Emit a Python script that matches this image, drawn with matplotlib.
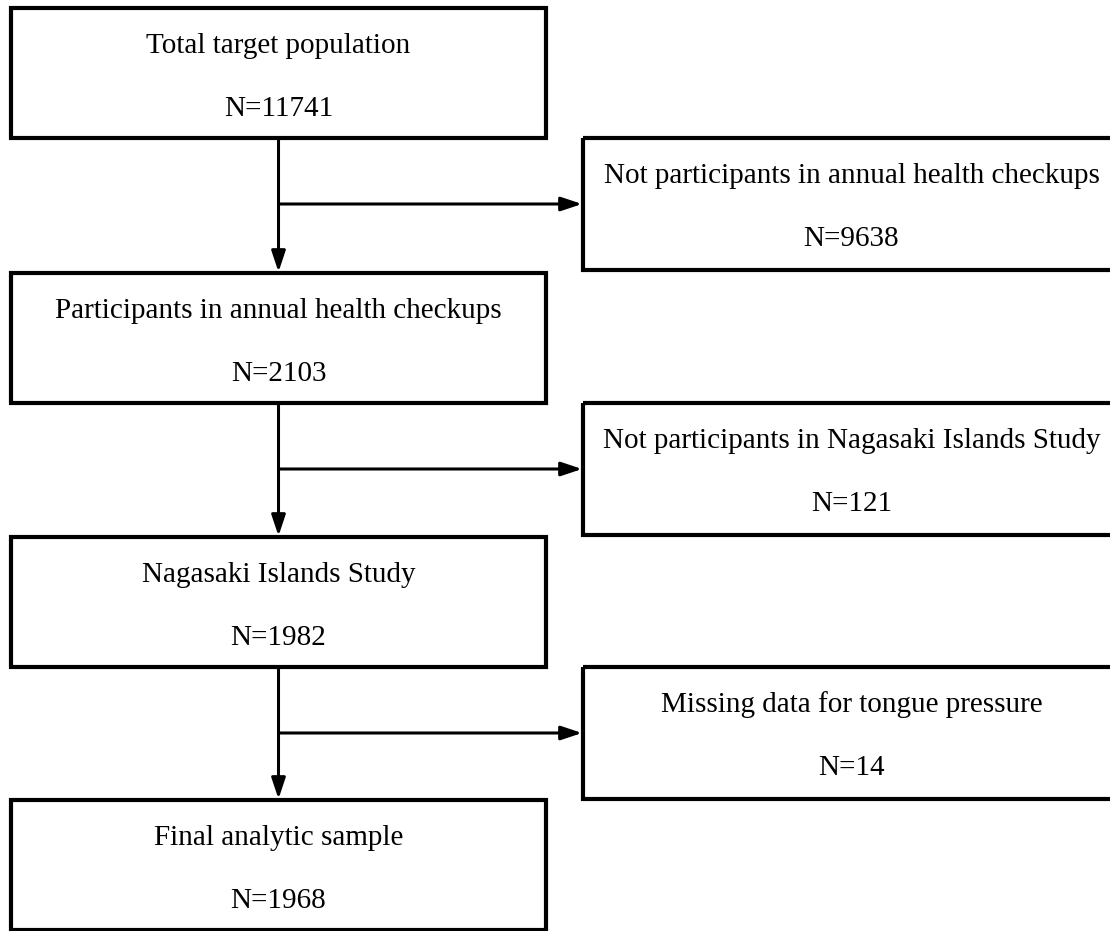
import matplotlib
matplotlib.use("Agg")
import matplotlib.pyplot as plt
from matplotlib.patches import Rectangle

# flowchart content
main_labels = ["Total target population",
               "Participants in annual health checkups",
               "Nagasaki Islands Study",
               "Final analytic sample"]
main_counts = [11741, 2103, 1982, 1968]
excl_labels = ["Not participants in annual health checkups",
               "Not participants in Nagasaki Islands Study",
               "Missing data for tongue pressure"]
excl_counts = [9638, 121, 14]

# layout in pixels (y grows downward)
main_x0, main_x1 = 11, 546
main_tops = [8, 273, 537, 800]
main_h = 130
side_x0, side_x1 = 583, 1120
side_tops = [138, 403, 667]
side_h = 132
stem_x = (main_x0 + main_x1) / 2

plt.rcParams['font.family'] = ['Liberation Serif', 'DejaVu Serif']

fig = plt.figure(figsize=(11.1, 9.31), dpi=100)
ax = fig.add_axes([0, 0, 1, 1])
ax.set_xlim(0, 1110)
ax.set_ylim(931, 0)
ax.axis("off")

fs = 21
lw_box = 3.0
lw_arrow = 2.2


def box(x0, x1, top, h, label, n):
    ax.add_patch(Rectangle((x0, top), x1 - x0, h, fill=False,
                           edgecolor="black", linewidth=lw_box,
                           joinstyle="miter", clip_on=True))
    cx = (x0 + x1) / 2
    ax.text(cx, top + 38, label, ha="center", va="center", fontsize=fs)
    ax.text(cx, top + 101, "N=%d" % n, ha="center", va="center", fontsize=fs)


def arrow(x0, y0, x1, y1):
    ax.annotate("", xy=(x1, y1), xytext=(x0, y0),
                arrowprops=dict(arrowstyle="-|>,head_length=0.9,head_width=0.3",
                                color="black", lw=lw_arrow,
                                shrinkA=0, shrinkB=0, mutation_scale=14))


for i in range(len(main_labels)):
    box(main_x0, main_x1, main_tops[i], main_h, main_labels[i], main_counts[i])

for i in range(len(excl_labels)):
    box(side_x0, side_x1, side_tops[i], side_h, excl_labels[i], excl_counts[i])
    top = main_tops[i] + main_h
    bottom = main_tops[i + 1]
    arrow(stem_x, top, stem_x, bottom - 1)
    ymid = side_tops[i] + side_h / 2
    arrow(stem_x, ymid, side_x0 - 1, ymid)

fig.savefig("out.png", dpi=100)
